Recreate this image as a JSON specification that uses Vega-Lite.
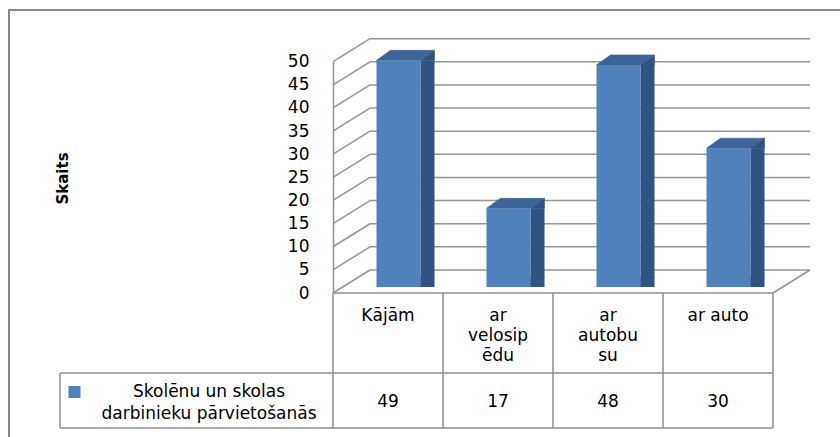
{
  "$schema": "https://vega.github.io/schema/vega-lite/v6.json",
  "width": 836,
  "height": 432,
  "autosize": {"type": "none"},
  "padding": {"left": 9, "top": 10, "right": -5, "bottom": -5},
  "background": "white",
  "config": {
    "view": {"stroke": "#898989", "strokeWidth": 2},
    "axis": {"labelFont": "DejaVu Sans", "labelFontSize": 17, "labelColor": "#000000", "titleFont": "DejaVu Sans", "titleColor": "#000000", "titleFontSize": 15, "titleFontWeight": "bold"},
    "text": {"font": "DejaVu Sans"}
  },
  "datasets": {
    "main": [
      {"category": "Kājām", "value": 49, "series": "Skolēnu un skolas darbinieku pārvietošanās"},
      {"category": "ar velosipēdu", "value": 17, "series": "Skolēnu un skolas darbinieku pārvietošanās"},
      {"category": "ar autobusu", "value": 48, "series": "Skolēnu un skolas darbinieku pārvietošanās"},
      {"category": "ar auto", "value": 30, "series": "Skolēnu un skolas darbinieku pārvietošanās"}
    ],
    "ticks": [
      {"value": 0}, {"value": 5}, {"value": 10}, {"value": 15}, {"value": 20}, {"value": 25},
      {"value": 30}, {"value": 35}, {"value": 40}, {"value": 45}, {"value": 50}
    ]
  },
  "layer": [
    {
      "data": {"name": "main"},
      "mark": {"type": "bar", "width": 44, "xOffset": 10.5, "yOffset": -6, "y2Offset": -6, "opacity": 0},
      "encoding": {
        "x": {"field": "category", "type": "nominal",
          "scale": {"domain": ["Kājām", "ar velosipēdu", "ar autobusu", "ar auto"], "type": "band", "paddingInner": 0, "paddingOuter": 0, "range": [324, 764]},
          "axis": {"orient": "bottom", "offset": -149, "domain": false, "ticks": false, "grid": false, "labelPadding": 14, "labelBaseline": "top", "labelLineHeight": 20, "labelAngle": 0, "labelOverlap": false, "labelFlush": false, "labelLimit": 0, "title": null,
            "labelExpr": "datum.label == 'ar velosipēdu' ? ['ar', 'velosip', 'ēdu'] : datum.label == 'ar autobusu' ? ['ar', 'autobu', 'su'] : datum.label"}},
        "y": {"field": "value", "type": "quantitative",
          "scale": {"domain": [0, 50], "range": [283, 51.7], "nice": false, "zero": true},
          "axis": {"values": [0, 5, 10, 15, 20, 25, 30, 35, 40, 45, 50], "ticks": false, "grid": false, "domainColor": "#8c8c8c", "domainWidth": 1.5, "labelPadding": 24, "offset": -324,
            "title": "Skaits", "titleFontSize": 15, "titleFontWeight": "bold", "titleX": -271, "titleY": 168, "titleAngle": 270, "titleBaseline": "middle", "titleAlign": "center"}}
      }
    },
    {
      "data": {"name": "ticks"},
      "mark": {"type": "rule", "color": "#959595", "strokeWidth": 1.5, "xOffset": -18, "x2Offset": 92, "yOffset": -23, "y2Offset": -23},
      "encoding": {
        "x": {"datum": "Kājām", "type": "nominal", "bandPosition": 0.5},
        "x2": {"datum": "ar auto", "bandPosition": 0.5},
        "y": {"field": "value", "type": "quantitative"},
        "y2": {"field": "value"}
      }
    },
    {
      "data": {"name": "ticks"},
      "mark": {"type": "rule", "color": "#959595", "strokeWidth": 1.5, "xOffset": -55, "x2Offset": -18, "y2Offset": -23},
      "encoding": {
        "x": {"datum": "Kājām", "type": "nominal", "bandPosition": 0.5},
        "x2": {"datum": "Kājām", "bandPosition": 0.5},
        "y": {"field": "value", "type": "quantitative"},
        "y2": {"field": "value"}
      }
    },
    {
      "data": {"name": "ticks"},
      "transform": [{"filter": "datum.value == 0"}],
      "mark": {"type": "rule", "color": "#959595", "strokeWidth": 1.5, "xOffset": 55, "x2Offset": 92, "y2Offset": -23},
      "encoding": {
        "x": {"datum": "ar auto", "type": "nominal", "bandPosition": 0.5},
        "x2": {"datum": "ar auto", "bandPosition": 0.5},
        "y": {"field": "value", "type": "quantitative"},
        "y2": {"field": "value"}
      }
    },
    {
      "data": {"name": "ticks"},
      "transform": [{"filter": "datum.value == 0"}],
      "mark": {"type": "rule", "color": "#8c8c8c", "strokeWidth": 1.5, "xOffset": -55, "x2Offset": 55},
      "encoding": {
        "x": {"datum": "Kājām", "type": "nominal", "bandPosition": 0.5},
        "x2": {"datum": "ar auto", "bandPosition": 0.5},
        "y": {"field": "value", "type": "quantitative"}
      }
    },
    {
      "data": {"name": "ticks"},
      "transform": [{"filter": "datum.value == 0"}],
      "mark": {"type": "rule", "color": "#8c8c8c", "strokeWidth": 1.5, "xOffset": -328, "x2Offset": 55, "yOffset": 80, "y2Offset": 80},
      "encoding": {
        "x": {"datum": "Kājām", "type": "nominal", "bandPosition": 0.5},
        "x2": {"datum": "ar auto", "bandPosition": 0.5},
        "y": {"field": "value", "type": "quantitative"},
        "y2": {"field": "value"}
      }
    },
    {
      "data": {"name": "ticks"},
      "transform": [{"filter": "datum.value == 0"}],
      "mark": {"type": "rule", "color": "#8c8c8c", "strokeWidth": 1.5, "xOffset": -328, "x2Offset": 55, "yOffset": 135, "y2Offset": 135},
      "encoding": {
        "x": {"datum": "Kājām", "type": "nominal", "bandPosition": 0.5},
        "x2": {"datum": "ar auto", "bandPosition": 0.5},
        "y": {"field": "value", "type": "quantitative"},
        "y2": {"field": "value"}
      }
    },
    {
      "data": {"name": "ticks"},
      "transform": [{"filter": "datum.value == 0"}],
      "mark": {"type": "rule", "color": "#8c8c8c", "strokeWidth": 1.5, "xOffset": -328, "yOffset": 80, "y2Offset": 135},
      "encoding": {
        "x": {"datum": "Kājām", "type": "nominal", "bandPosition": 0.5},
        "y": {"field": "value", "type": "quantitative"},
        "y2": {"field": "value"}
      }
    },
    {
      "data": {"name": "main"},
      "mark": {"type": "rule", "color": "#8c8c8c", "strokeWidth": 1.5, "xOffset": -55, "y2Offset": 135},
      "encoding": {
        "x": {"field": "category", "type": "nominal", "bandPosition": 0.5},
        "y": {"datum": 0, "type": "quantitative"},
        "y2": {"datum": 0}
      }
    },
    {
      "data": {"name": "main"},
      "transform": [{"filter": "datum.category == 'ar auto'"}],
      "mark": {"type": "rule", "color": "#8c8c8c", "strokeWidth": 1.5, "xOffset": 55, "y2Offset": 135},
      "encoding": {
        "x": {"field": "category", "type": "nominal", "bandPosition": 0.5},
        "y": {"datum": 0, "type": "quantitative"},
        "y2": {"datum": 0}
      }
    },
    {
      "data": {"name": "main"},
      "mark": {"type": "bar", "width": 14, "xOffset": 39.5, "yOffset": -6, "y2Offset": -16, "color": "#2F5382"},
      "encoding": {
        "x": {"field": "category", "type": "nominal"},
        "y": {"field": "value", "type": "quantitative"}
      }
    },
    {
      "data": {"name": "main"},
      "mark": {"type": "point", "shape": "M-1,0.714L1,-0.714L1,0.714Z", "size": 196, "filled": true, "opacity": 1, "fill": "#2F5382", "stroke": "#2F5382", "strokeWidth": 0.6, "xOffset": 39.5, "yOffset": -11},
      "encoding": {
        "x": {"field": "category", "type": "nominal"},
        "y": {"field": "value", "type": "quantitative"}
      }
    },
    {
      "data": {"name": "main"},
      "mark": {"type": "point", "shape": "M-1,-0.714L-1,0.714L1,-0.714Z", "size": 196, "filled": true, "opacity": 1, "fill": "#2F5382", "stroke": "#2F5382", "strokeWidth": 0.6, "xOffset": 39.5, "yOffset": -11},
      "encoding": {
        "x": {"field": "category", "type": "nominal"},
        "y": {"datum": 0, "type": "quantitative"}
      }
    },
    {
      "data": {"name": "main"},
      "mark": {"type": "point", "shape": "M-1,0.1724L0.5172,0.1724L1,-0.1724L-0.5172,-0.1724Z", "size": 3364, "filled": true, "opacity": 1, "fill": "#3B6597", "stroke": "#3B6597", "strokeWidth": 0.6, "xOffset": 17.5, "yOffset": -11},
      "encoding": {
        "x": {"field": "category", "type": "nominal"},
        "y": {"field": "value", "type": "quantitative"}
      }
    },
    {
      "data": {"name": "main"},
      "mark": {"type": "bar", "width": 44, "xOffset": 10.5, "yOffset": -6, "y2Offset": -6},
      "encoding": {
        "x": {"field": "category", "type": "nominal"},
        "y": {"field": "value", "type": "quantitative"},
        "color": {"field": "series", "type": "nominal", "scale": {"range": ["#4F81BD"]},
          "legend": {"orient": "none", "legendX": 57, "legendY": 373.5, "title": null, "padding": 0,
            "symbolType": "square", "symbolSize": 144, "symbolStrokeWidth": 0,
            "labelFont": "DejaVu Sans", "labelFontSize": 17, "labelColor": "#000000", "labelAlign": "center", "labelOffset": 126, "labelLimit": 400,
            "labelExpr": "[substring(datum.label, 0, 17), substring(datum.label, 18)]",
            "encode": {"labels": {"update": {"lineHeight": {"value": 22}}}}}}
      }
    },
    {
      "data": {"name": "main"},
      "mark": {"type": "text", "fontSize": 17, "color": "#000000", "align": "center", "baseline": "middle", "yOffset": 108.5},
      "encoding": {
        "x": {"field": "category", "type": "nominal"},
        "y": {"datum": 0, "type": "quantitative"},
        "text": {"field": "value", "type": "quantitative"}
      }
    }
  ]
}
